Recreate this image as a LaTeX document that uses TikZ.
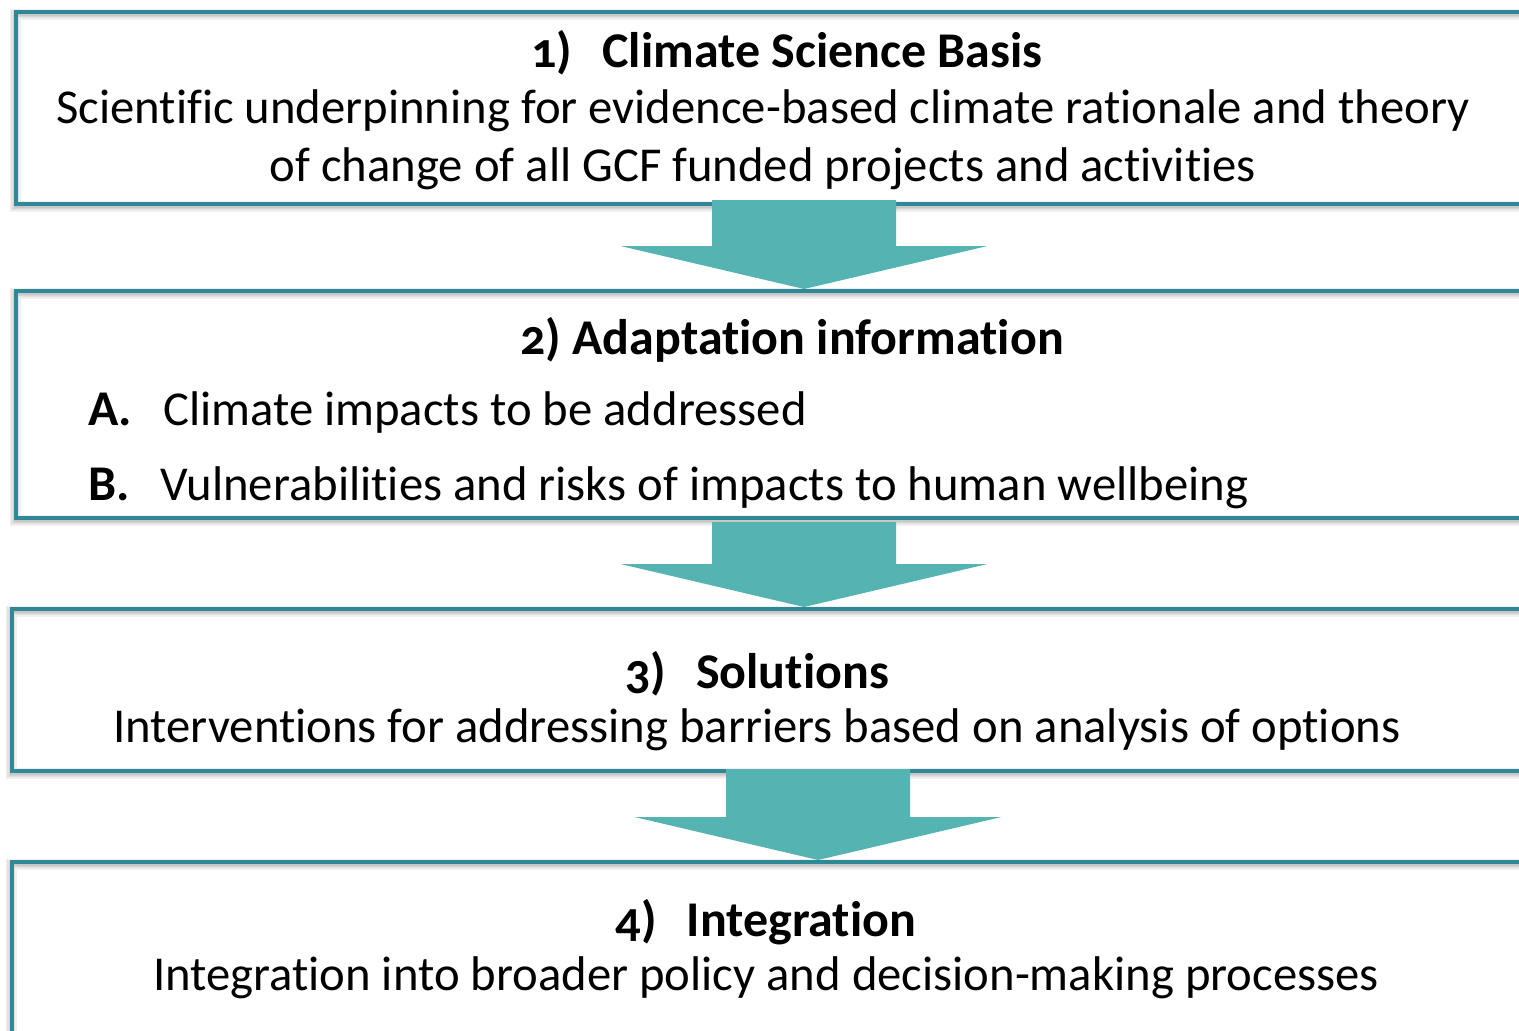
\documentclass[tikz,border=0pt]{standalone}
\usepackage{fontspec}
\setmainfont{Carlito}[Numbers=OldStyle, Ligatures={NoCommon}]
\usetikzlibrary{calc}
\definecolor{bordc}{RGB}{46,136,150}
\definecolor{arrc}{RGB}{85,180,178}
\tikzset{
  box/.style={draw=bordc, line width=3.5pt, anchor=north west, inner sep=0pt},
  txt/.style={anchor=base, inner sep=0pt, font=\fontsize{48.7}{56}\selectfont},
  ttl/.style={anchor=base, inner sep=0pt, font=\fontsize{50}{58}\selectfont\bfseries},
  arrowfill/.style={fill=arrc},
}
\newcommand\blockarrow[2]{%
  \fill[arrowfill] let \p1=(#1), \p2=(#2) in
    (\x1-92pt,\y1) -- (\x1+92pt,\y1) -- (\x1+92pt,\y2+43pt) -- (\x1+183.5pt,\y2+43pt)
    -- (\x2,\y2) -- (\x1-183.5pt,\y2+43pt) -- (\x1-92pt,\y2+43pt) -- cycle;}
\newcommand\boxshadow[4]{%
  \foreach \w in {11,8,5,3} {
    \draw[draw=black, opacity=0.06, line width=\w pt] ($(#1,#2)+(1,4)$) rectangle ++(#3,#4);
  }}
\begin{document}
\begin{tikzpicture}[x=1pt,y=-1pt]
\useasboundingbox (0,0) rectangle (1519,1031);
% shadows
\boxshadow{14}{10}{1560}{192}
\boxshadow{14}{289}{1560}{227}
\boxshadow{10}{607}{1560}{162}
\boxshadow{10}{860}{1560}{300}
% boxes
\node[box, minimum width=1560pt, minimum height=192pt] (b1) at (14,10) {};
\node[box, minimum width=1560pt, minimum height=227pt] (b2) at (14,289) {};
\node[box, minimum width=1560pt, minimum height=162pt] (b3) at (10,607) {};
\node[box, minimum width=1560pt, minimum height=300pt] (b4) at (10,860) {};
% arrows
\coordinate (a1) at (804,200);
\coordinate (a2) at (804,522);
\coordinate (a3) at (818,769);
\blockarrow{a1}{b2.north -| a1}
\blockarrow{a2}{b3.north -| a2}
\blockarrow{a3}{b4.north -| a3}
% texts box 1
\node[ttl] (t1) at (787,67) {1)\hspace{30pt}Climate Science Basis};
\node[txt] (t1a) at (763,123) {Scientific underpinning for evidence-based climate rationale and theory};
\node[txt] (t1b) at (763,181) {of change of all GCF funded projects and activities};
% box 2
\node[ttl] (t2) at (792,354) {2) Adaptation information};
\node[ttl, anchor=base west] (la) at (88,425) {A.};
\node[txt, anchor=base west] (ta) at (163,425) {Climate impacts to be addressed};
\node[ttl, anchor=base west] (lb) at (88,500) {B.};
\node[txt, anchor=base west] (tb) at (160,500) {Vulnerabilities and risks of impacts to human wellbeing};
% box 3
\node[ttl] (t3) at (757,688) {3)\hspace{30pt}Solutions};
\node[txt] (t3a) at (757,742) {Interventions for addressing barriers based on analysis of options};
% box 4
\node[ttl] (t4) at (766,936) {4)\hspace{30pt}Integration};
\node[txt] (t4a) at (766,990) {Integration into broader policy and decision-making processes};
\end{tikzpicture}
\end{document}
